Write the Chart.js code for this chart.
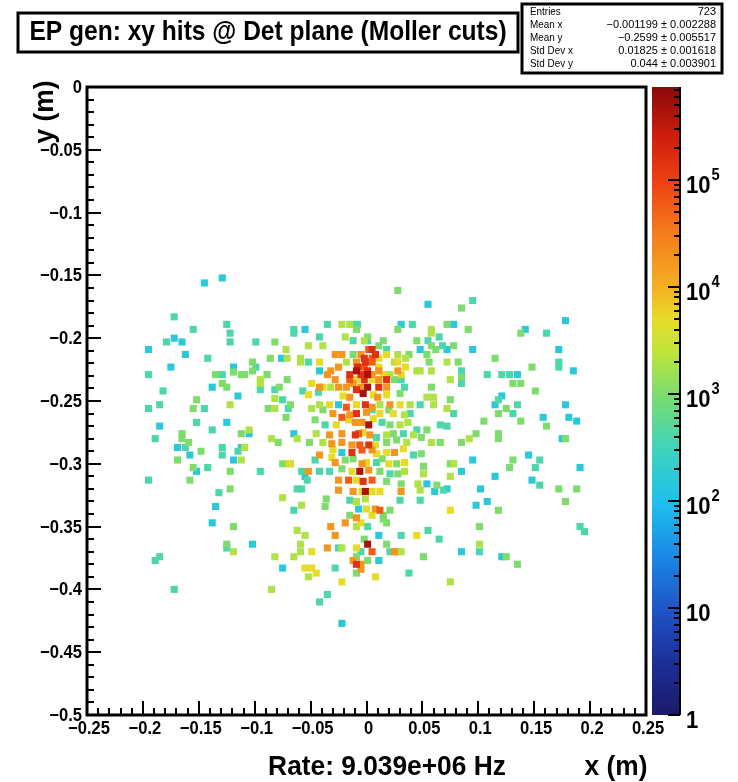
<!DOCTYPE html>
<html>
<head>
<meta charset="utf-8">
<script src="https://cdn.jsdelivr.net/npm/chart.js@4.4.1/dist/chart.umd.min.js"></script>
<style>
  html, body { margin: 0; padding: 0; background: #fff; }
  canvas { display: block; }
</style>
</head>
<body>
<canvas id="myChart" width="738" height="782"></canvas>
<script>

// hits, grouped by their colour level (rate per bin, Hz)
const levelRates = [160, 400, 1000, 2000, 5000, 18000, 60000, 150000, 450000];

const hitsRate160 = [
  [-0.145,-0.156],[-0.129,-0.152],[-0.172,-0.200],[-0.165,-0.203],[-0.195,-0.209],[-0.162,-0.213],[-0.076,-0.216],[-0.175,-0.223],[-0.119,-0.223],[-0.138,-0.239],
  [-0.115,-0.246],[-0.185,-0.270],[-0.125,-0.267],[-0.169,-0.287],[-0.158,-0.293],[-0.105,-0.276],[-0.112,-0.287],[-0.119,-0.297],[-0.152,-0.306],[-0.135,-0.334],
  [-0.138,-0.347],[-0.102,-0.364],[-0.075,-0.383],
  [0.078,-0.189],[0.178,-0.186],[0.142,-0.193],[0.072,-0.209],[0.095,-0.209],[0.172,-0.209],[0.185,-0.226],[0.135,-0.229],
  [0.121,-0.246],[0.115,-0.253],[0.178,-0.253],[0.158,-0.263],[0.181,-0.263],[0.188,-0.266],[0.175,-0.280],[0.145,-0.293],[0.095,-0.297],[0.191,-0.303],
  [0.085,-0.306],[0.115,-0.310],[0.148,-0.313],[0.072,-0.320],[0.102,-0.320],[0.108,-0.330],[0.098,-0.333],
  [0.085,-0.370],[0.121,-0.374],
  [0.055,-0.173],[-0.055,-0.193],[0.031,-0.189],[0.048,-0.209],[-0.042,-0.226],
  [-0.025,-0.253],[-0.065,-0.276],[-0.022,-0.291],[-0.055,-0.310],[0.054,-0.316],[0.061,-0.322],[-0.007,-0.336],
  [0.011,-0.357],[0.011,-0.377],[-0.022,-0.427]
];

const hitsRate400 = [
  [-0.172,-0.183],[-0.155,-0.193],[-0.125,-0.189],[-0.122,-0.196],[-0.179,-0.203],[-0.122,-0.203],[-0.099,-0.203],[-0.142,-0.216],[-0.099,-0.223],[-0.195,-0.229],
  [-0.129,-0.229],[-0.182,-0.242],[-0.095,-0.241],[-0.082,-0.241],
  [-0.195,-0.256],[-0.185,-0.253],[-0.145,-0.256],[-0.075,-0.249],[-0.070,-0.256],[-0.152,-0.267],[-0.138,-0.273],[-0.189,-0.280],[-0.162,-0.287],[-0.129,-0.287],
  [-0.129,-0.293],[-0.115,-0.290],[-0.142,-0.303],[-0.095,-0.306],[-0.195,-0.313],[-0.132,-0.323],
  [-0.125,-0.367],[-0.185,-0.374],[-0.189,-0.377],[-0.172,-0.400],
  [0.095,-0.170],[0.161,-0.196],[0.172,-0.219],[0.172,-0.223],[0.085,-0.226],[0.108,-0.229],[0.121,-0.229],[0.128,-0.229],[0.085,-0.236],
  [0.078,-0.260],[0.072,-0.270],[0.118,-0.249],[0.135,-0.253],[0.131,-0.260],[0.155,-0.297],[0.151,-0.303],[0.155,-0.317],
  [0.191,-0.350],[0.195,-0.354],[0.101,-0.370],
  [-0.065,-0.193],[-0.035,-0.189],[-0.012,-0.189],[-0.008,-0.189],[0.041,-0.189],[-0.042,-0.199],[-0.065,-0.196],[-0.012,-0.202],[0.001,-0.202],[0.055,-0.202],
  [0.065,-0.199],[0.068,-0.206],[0.018,-0.209],[-0.052,-0.219],[0.031,-0.233],[0.034,-0.239],[-0.057,-0.242],
  [-0.043,-0.243],[0.048,-0.253],[0.005,-0.257],[0.039,-0.260],[-0.037,-0.269],[0.014,-0.267],[0.045,-0.273],[0.066,-0.269],[0.009,-0.279],[0.033,-0.276],
  [0.042,-0.293],[-0.046,-0.297],[0.009,-0.299],[-0.058,-0.306],[-0.042,-0.306],[-0.033,-0.306],[0.021,-0.308],[-0.053,-0.313],[-0.062,-0.320],[-0.058,-0.320],
  [0.069,-0.321],[-0.015,-0.329],[0.030,-0.329],[0.048,-0.329],[-0.065,-0.337],
  [0.001,-0.350],[0.055,-0.353],[0.031,-0.357],[0.065,-0.360],[-0.025,-0.367],[-0.005,-0.370],[0.021,-0.370],[-0.028,-0.383],[0.038,-0.387],[-0.035,-0.404],
  [-0.042,-0.410]
];

const hitsRate1000 = [
  [-0.082,-0.203],[-0.086,-0.216],[-0.102,-0.219],[-0.102,-0.226],[-0.119,-0.227],[-0.135,-0.229],[-0.112,-0.229],[-0.109,-0.229],[-0.089,-0.229],[-0.071,-0.233],
  [-0.129,-0.236],[-0.125,-0.239],[-0.078,-0.239],
  [-0.152,-0.249],[-0.155,-0.256],[-0.088,-0.256],[-0.072,-0.263],[-0.165,-0.276],[-0.165,-0.280],[-0.159,-0.283],[-0.148,-0.290],[-0.112,-0.276],[-0.079,-0.283],
  [-0.169,-0.297],[-0.155,-0.303],[-0.122,-0.306],[-0.075,-0.300],[-0.158,-0.313],[-0.122,-0.320],
  [-0.119,-0.350],[-0.125,-0.364],
  [0.085,-0.176],[0.072,-0.189],[0.091,-0.193],[0.138,-0.196],[0.078,-0.206],[0.115,-0.216],[0.082,-0.219],[0.148,-0.223],[0.085,-0.231],[0.131,-0.236],
  [0.138,-0.236],[0.151,-0.242],
  [0.075,-0.249],[0.125,-0.256],[0.118,-0.260],[0.105,-0.266],[0.138,-0.266],[0.161,-0.270],[0.098,-0.276],[0.085,-0.283],[0.118,-0.276],[0.118,-0.280],
  [0.178,-0.280],[0.131,-0.297],[0.075,-0.300],[0.128,-0.303],[0.172,-0.320],[0.188,-0.320],[0.178,-0.330],[0.118,-0.337],
  [0.101,-0.350],[0.125,-0.374],[0.135,-0.380],
  [0.028,-0.162],[-0.009,-0.193],[0.028,-0.193],[0.001,-0.199],[0.015,-0.202],[0.045,-0.202],[0.011,-0.206],[0.058,-0.206],[0.062,-0.209],[-0.012,-0.213],
  [0.038,-0.213],[0.054,-0.213],[0.056,-0.219],[0.025,-0.233],[0.058,-0.239],
  [0.030,-0.244],[-0.068,-0.253],[-0.039,-0.257],[0.020,-0.257],[-0.046,-0.265],[0.021,-0.269],[0.054,-0.273],[0.024,-0.276],[0.049,-0.279],[-0.051,-0.283],
  [0.018,-0.283],[0.027,-0.281],[0.066,-0.283],[0.049,-0.292],[-0.019,-0.297],[-0.012,-0.296],[0.014,-0.296],[0.027,-0.300],[0.051,-0.302],[-0.022,-0.304],
  [0.012,-0.306],[0.028,-0.308],[0.018,-0.314],[0.031,-0.316],[0.063,-0.317],[-0.036,-0.328],[-0.037,-0.334],[0.021,-0.337],
  [-0.015,-0.341],[0.015,-0.341],[0.015,-0.344],[0.018,-0.347],[-0.002,-0.360],[0.018,-0.364],[-0.009,-0.374],[0.051,-0.374],[0.001,-0.377],[-0.009,-0.387]
];

const hitsRate2000 = [
  [-0.072,-0.209],[-0.071,-0.216],[-0.095,-0.233],[-0.095,-0.236],
  [-0.122,-0.253],[-0.082,-0.248],[-0.082,-0.256],[-0.105,-0.273],[-0.085,-0.280],[-0.109,-0.287],[-0.112,-0.297],[-0.075,-0.327],
  [-0.119,-0.370],[-0.082,-0.374],[-0.085,-0.400],
  [0.072,-0.219],[0.075,-0.233],
  [0.072,-0.256],[0.092,-0.280],[0.078,-0.300],[0.075,-0.310],
  [0.101,-0.364],[0.075,-0.394],
  [-0.022,-0.189],[-0.015,-0.189],[0.058,-0.193],[-0.019,-0.199],[-0.002,-0.202],[0.058,-0.196],[-0.052,-0.206],[-0.039,-0.206],[0.028,-0.213],[-0.059,-0.216],
  [0.035,-0.216],[-0.059,-0.219],[-0.018,-0.219],[0.025,-0.219],[0.045,-0.226],[0.048,-0.226],[0.058,-0.226],[0.021,-0.229],[-0.032,-0.239],
  [0.054,-0.247],[0.060,-0.247],[-0.049,-0.256],[-0.042,-0.253],[0.012,-0.253],[0.039,-0.253],[0.060,-0.253],[0.034,-0.261],[0.030,-0.269],[0.037,-0.267],
  [-0.045,-0.276],[0.018,-0.277],[0.042,-0.277],[-0.062,-0.280],[-0.039,-0.283],[0.036,-0.283],[0.058,-0.283],[-0.068,-0.300],[0.034,-0.306],[0.051,-0.308],
  [0.046,-0.316],[0.048,-0.321],[-0.009,-0.330],[-0.001,-0.328],[-0.058,-0.333],
  [-0.009,-0.350],[-0.062,-0.353],[-0.055,-0.357],[-0.059,-0.364],[-0.022,-0.367],[0.028,-0.370],[0.031,-0.370],[-0.059,-0.370],[-0.065,-0.374],[-0.052,-0.390]
];

const hitsRate5000 = [
  [-0.069,-0.300],[0.075,-0.337],
  [0.018,-0.213],[0.011,-0.216],[-0.042,-0.219],[0.028,-0.219],[0.011,-0.223],[0.035,-0.223],[0.015,-0.229],[0.031,-0.229],[-0.009,-0.233],[0.005,-0.233],
  [-0.049,-0.236],[-0.039,-0.239],
  [-0.052,-0.245],[-0.021,-0.246],[0.006,-0.245],[0.018,-0.245],[-0.033,-0.253],[-0.009,-0.253],[0.030,-0.253],[0.012,-0.260],[0.024,-0.260],[-0.027,-0.269],
  [-0.016,-0.265],[0.006,-0.264],[-0.003,-0.275],[0.008,-0.285],[-0.030,-0.289],[0.009,-0.292],[0.018,-0.291],[0.033,-0.288],[-0.031,-0.295],[0.000,-0.299],
  [0.020,-0.300],[0.034,-0.299],[-0.013,-0.306],[-0.009,-0.313],[-0.004,-0.322],[0.005,-0.322],[0.012,-0.322],[0.000,-0.336],
  [-0.005,-0.347],[0.005,-0.341],[0.045,-0.357],[-0.009,-0.367],[-0.049,-0.370],[-0.055,-0.383],[-0.049,-0.383],[-0.045,-0.387],[0.008,-0.390],[-0.022,-0.394]
];

const hitsRate18000 = [
  [-0.028,-0.213],[-0.022,-0.213],[-0.005,-0.213],[-0.009,-0.219],[-0.025,-0.223],[-0.032,-0.226],[0.011,-0.226],[0.028,-0.226],[-0.035,-0.229],[0.005,-0.229],
  [-0.028,-0.233],[0.011,-0.233],[-0.042,-0.239],[-0.025,-0.239],[-0.018,-0.239],[-0.012,-0.236],[0.018,-0.239],[-0.005,-0.239],
  [-0.015,-0.247],[0.010,-0.247],[0.005,-0.255],[0.021,-0.253],[-0.030,-0.260],[-0.015,-0.261],[0.000,-0.259],[-0.010,-0.267],[-0.004,-0.267],[-0.033,-0.277],
  [-0.022,-0.276],[0.003,-0.277],[-0.031,-0.284],[-0.022,-0.283],[-0.013,-0.285],[0.005,-0.289],[0.025,-0.291],[-0.042,-0.293],[-0.028,-0.299],[-0.004,-0.300],
  [-0.052,-0.306],[0.002,-0.305],[-0.025,-0.313],[-0.025,-0.321],[-0.012,-0.322],[0.031,-0.322],[0.008,-0.336],
  [-0.009,-0.343],[-0.019,-0.347],[-0.032,-0.350],[-0.028,-0.357],[-0.035,-0.367],[0.025,-0.370],[-0.012,-0.377],[-0.005,-0.380],[-0.005,-0.384]
];

const hitsRate60000 = [
  [0.002,-0.209],[0.005,-0.216],[0.005,-0.219],[-0.002,-0.223],[-0.015,-0.233],
  [-0.018,-0.255],[-0.022,-0.263],[-0.007,-0.276],[-0.006,-0.285],[-0.004,-0.289],[-0.016,-0.313],[0.005,-0.313],[0.012,-0.337],
  [0.005,-0.370]
];

const hitsRate150000 = [
  [0.005,-0.209],[0.008,-0.213],[-0.002,-0.216],[-0.001,-0.219],[-0.008,-0.223],[0.001,-0.226],[-0.015,-0.229],[-0.005,-0.229],[-0.002,-0.233],[0.018,-0.233],
  [0.011,-0.239],[-0.009,-0.241],
  [-0.001,-0.253],[-0.009,-0.260],[-0.010,-0.277],[0.002,-0.285],[-0.013,-0.291],[-0.003,-0.314],
  [-0.009,-0.380]
];

const hitsRate450000 = [
  [-0.009,-0.226],[0.001,-0.229],[0.001,-0.239],
  [-0.003,-0.244],[0.002,-0.269],[-0.006,-0.306],[-0.001,-0.322],
  [0.001,-0.364]
];

const levelHits = [hitsRate160, hitsRate400, hitsRate1000, hitsRate2000, hitsRate5000,
  hitsRate18000, hitsRate60000, hitsRate150000, hitsRate450000];

const xTickValues = [-0.25, -0.2, -0.15, -0.1, -0.05, 0, 0.05, 0.1, 0.15, 0.2, 0.25];
const xTickLabels = ['\u22120.25', '\u22120.2', '\u22120.15', '\u22120.1', '\u22120.05', '0', '0.05', '0.1', '0.15', '0.2', '0.25'];
const yTickValues = [0, -0.05, -0.1, -0.15, -0.2, -0.25, -0.3, -0.35, -0.4, -0.45, -0.5];
const yTickLabels = ['0', '\u22120.05', '\u22120.1', '\u22120.15', '\u22120.2', '\u22120.25', '\u22120.3', '\u22120.35', '\u22120.4', '\u22120.45', '\u22120.5'];
const zTickValues = [1, 10, 100, 1000, 10000, 100000];
const zTickBase = ['1', '10', '10', '10', '10', '10'];
const zTickExp = ['', '', '2', '3', '4', '5'];

const titleText = 'EP gen: xy hits @ Det plane (Moller cuts)';
const rateText = 'Rate: 9.039e+06 Hz';
const statsNames = ['Entries', 'Mean x', 'Mean y', 'Std Dev x', 'Std Dev y'];
const statsValues = ['723', '\u22120.001199 \u00b1 0.002288', '\u22120.2599 \u00b1 0.005517', '0.01825 \u00b1 0.001618', '0.044 \u00b1 0.003901'];

// rainbow palette, position 0 = bottom of colour bar, 1 = top
const paletteStops = [
  [0.00, [26, 26, 106]],
  [0.085, [30, 47, 154]],
  [0.17, [31, 85, 200]],
  [0.255, [26, 138, 230]],
  [0.34, [30, 192, 238]],
  [0.425, [62, 212, 188]],
  [0.51, [124, 220, 108]],
  [0.58, [192, 228, 58]],
  [0.63, [230, 220, 40]],
  [0.68, [244, 176, 34]],
  [0.77, [244, 122, 28]],
  [0.85, [238, 64, 18]],
  [0.92, [208, 30, 14]],
  [1.00, [138, 10, 10]]
];

function paletteColor(t) {
  t = Math.max(0, Math.min(1, t));
  for (let i = 1; i < paletteStops.length; i++) {
    if (t <= paletteStops[i][0]) {
      const a = paletteStops[i - 1], b = paletteStops[i];
      const f = (t - a[0]) / (b[0] - a[0]);
      const c = a[1].map((v, k) => Math.round(v + (b[1][k] - v) * f));
      return 'rgb(' + c.join(',') + ')';
    }
  }
  return 'rgb(138,10,10)';
}

function zFraction(scale, v) {
  const lo = Math.log10(scale.min), hi = Math.log10(scale.max);
  return (Math.log10(v) - lo) / (hi - lo);
}

const FONT = "'Liberation Sans', Arial, Helvetica, sans-serif";

function drawText(ctx, text, x, y, font, align, squeeze) {
  ctx.save();
  ctx.font = font;
  ctx.textAlign = align;
  ctx.textBaseline = 'middle';
  ctx.fillStyle = '#000';
  ctx.translate(x, y);
  ctx.scale(squeeze, 1);
  ctx.fillText(text, 0, 0);
  ctx.restore();
}

const rootDecor = {
  id: 'rootDecor',
  afterDraw(chart) {
    const ctx = chart.ctx;
    const area = chart.chartArea;
    const xs = chart.scales.x, ys = chart.scales.y, zs = chart.scales.z;

    ctx.save();
    ctx.strokeStyle = '#000';
    ctx.lineCap = 'butt';

    // inward ticks on the x axis
    ctx.lineWidth = 2;
    for (let i = -25; i <= 25; i++) {
      const px = Math.round(xs.getPixelForValue(i / 100));
      const len = i % 5 === 0 ? 14 : 7;
      ctx.beginPath();
      ctx.moveTo(px, area.bottom);
      ctx.lineTo(px, area.bottom - len);
      ctx.stroke();
    }
    // inward ticks on the y axis
    for (let i = 0; i <= 50; i++) {
      const py = Math.round(ys.getPixelForValue(-i / 100));
      const len = i % 5 === 0 ? 14 : 7;
      ctx.beginPath();
      ctx.moveTo(area.left, py);
      ctx.lineTo(area.left + len, py);
      ctx.stroke();
    }

    // frame
    ctx.lineWidth = 3;
    ctx.strokeRect(area.left, area.top, area.right - area.left, area.bottom - area.top);

    // tick labels
    xTickValues.forEach((v, i) => {
      drawText(ctx, xTickLabels[i], xs.getPixelForValue(v) + 2, area.bottom + 14, 'bold 18px ' + FONT, 'center', 0.92);
    });
    yTickValues.forEach((v, i) => {
      drawText(ctx, yTickLabels[i], area.left - 5, ys.getPixelForValue(v) + 1, 'bold 18px ' + FONT, 'right', 0.92);
    });

    // colour bar
    const barL = area.right + 6, barR = area.right + 34;
    for (let py = Math.floor(zs.top); py < zs.bottom; py++) {
      const v = zs.getValueForPixel(py + 0.5);
      ctx.fillStyle = paletteColor(zFraction(zs, v));
      ctx.fillRect(barL, py, barR - barL, 1);
    }
    ctx.lineWidth = 2;
    ctx.beginPath();
    ctx.moveTo(barR, zs.top);
    ctx.lineTo(barR, zs.bottom);
    ctx.stroke();
    for (let d = 1; d <= 100000; d *= 10) {
      for (let m = 1; m <= 9; m++) {
        const v = d * m;
        if (v > zs.max) break;
        const py = Math.round(zs.getPixelForValue(v));
        const len = m === 1 ? 12 : 6;
        ctx.beginPath();
        ctx.moveTo(barR, py);
        ctx.lineTo(barR - len, py);
        ctx.stroke();
      }
    }
    zTickValues.forEach((v, i) => {
      const py = zs.getPixelForValue(v);
      const x0 = barR + 6;
      drawText(ctx, zTickBase[i], x0, py + 6, 'bold 24px ' + FONT, 'left', 0.92);
      if (zTickExp[i]) {
        ctx.save();
        ctx.font = 'bold 24px ' + FONT;
        const w = ctx.measureText(zTickBase[i]).width * 0.92;
        ctx.restore();
        drawText(ctx, zTickExp[i], x0 + w + 1, py - 4, 'bold 16px ' + FONT, 'left', 0.92);
      }
    });

    // title box
    ctx.lineWidth = 3;
    ctx.strokeRect(18, 13, 500, 39);
    drawText(ctx, titleText, 268, 33, 'bold 27px ' + FONT, 'center', 0.91);

    // stats box
    ctx.fillStyle = '#fff';
    ctx.fillRect(522, 4, 200, 69);
    ctx.lineWidth = 3;
    ctx.strokeRect(522, 4, 200, 69);
    statsNames.forEach((name, i) => {
      const py = 12 + i * 13;
      drawText(ctx, name, 530, py, '11px ' + FONT, 'left', 0.9);
      drawText(ctx, statsValues[i], 716, py, '11px ' + FONT, 'right', 1.0);
    });

    // axis titles and rate
    drawText(ctx, rateText, 387, 767, 'bold 28px ' + FONT, 'center', 0.94);
    drawText(ctx, 'x (m)', 616, 767, 'bold 28px ' + FONT, 'center', 0.94);
    ctx.save();
    ctx.translate(45, 112);
    ctx.rotate(-Math.PI / 2);
    drawText(ctx, 'y (m)', 0, 0, 'bold 28px ' + FONT, 'center', 0.94);
    ctx.restore();

    ctx.restore();
  }
};

const datasets = levelRates.map((rate, i) => ({
  label: 'rate ' + rate,
  data: levelHits[i].map(p => ({ x: p[0], y: p[1] })),
  pointStyle: 'rect',
  pointRadius: 5,
  pointHoverRadius: 5,
  borderWidth: 0,
  order: levelRates.length - i,
  backgroundColor: (c) => paletteColor(zFraction(c.chart.scales.z, rate))
}));

const config = {
  type: 'scatter',
  data: { datasets: datasets },
  options: {
    responsive: false,
    animation: false,
    events: [],
    layout: { padding: { left: 87, top: 87, right: 92, bottom: 67 } },
    plugins: {
      legend: { display: false },
      tooltip: { enabled: false }
    },
    scales: {
      x: { type: 'linear', min: -0.25, max: 0.25, display: false },
      y: { type: 'linear', min: -0.5, max: 0, display: false },
      z: { type: 'logarithmic', axis: 'y', position: 'right', min: 1, max: 740000, display: false }
    }
  },
  plugins: [rootDecor]
};

const myChart = new Chart(document.getElementById('myChart'), config);
</script>
</body>
</html>
